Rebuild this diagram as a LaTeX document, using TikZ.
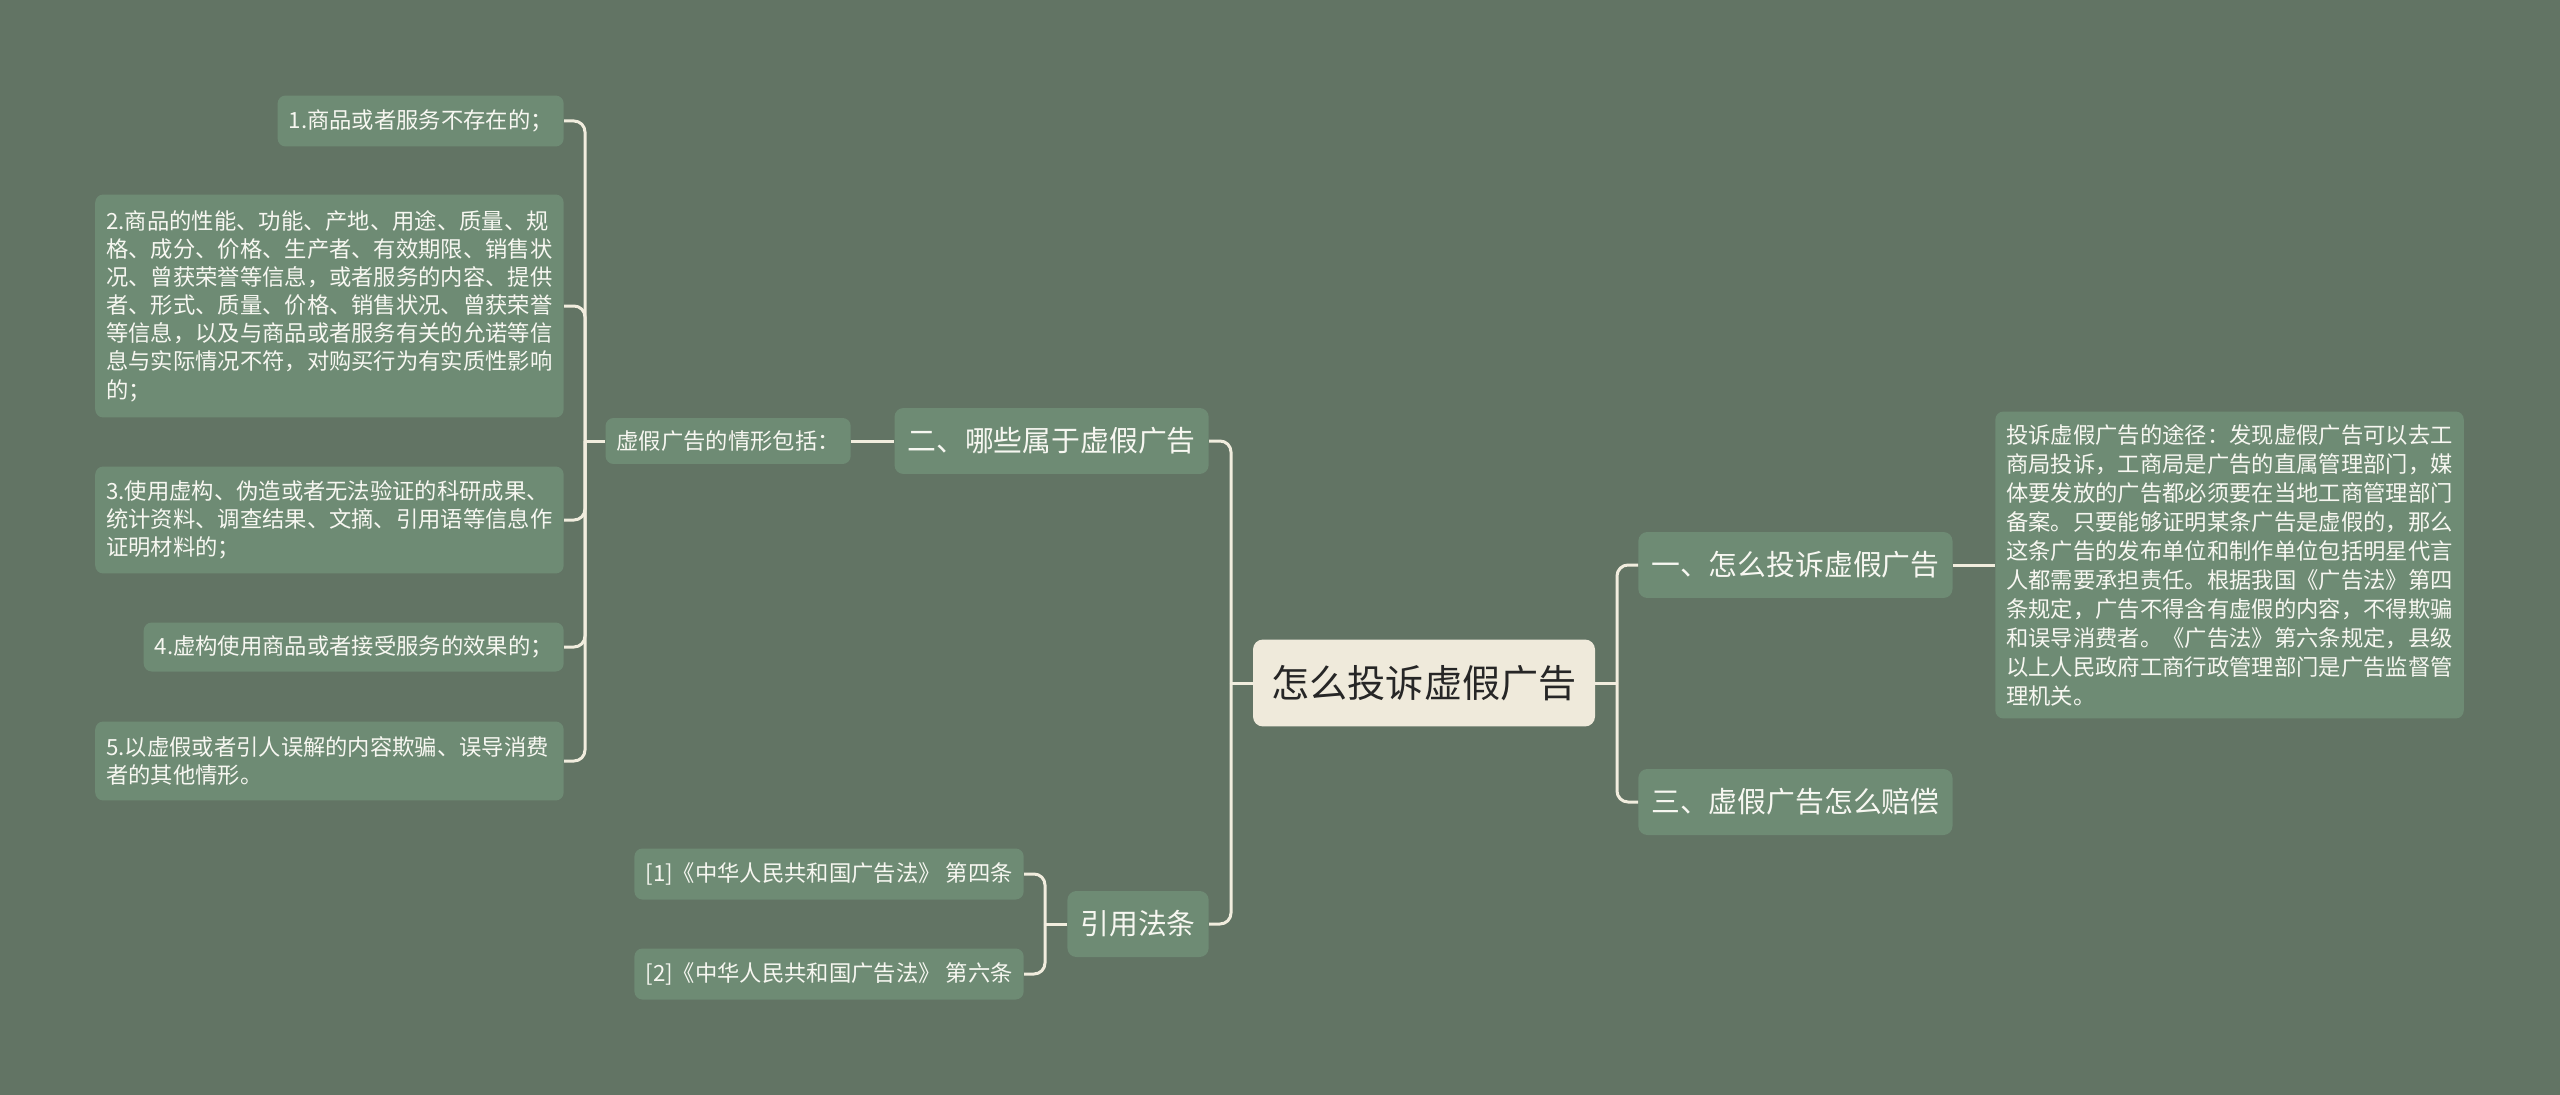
\documentclass[tikz,border=0pt]{standalone}
\usepackage{fontspec}
\setmainfont{Noto Sans CJK SC}
\usetikzlibrary{positioning}
\definecolor{BgGreen}{RGB}{98,116,100}
\definecolor{BoxGreen}{RGB}{110,139,116}
\definecolor{LineCream}{RGB}{241,237,222}
\definecolor{RootCream}{RGB}{239,234,219}
\definecolor{RootInk}{RGB}{38,38,38}
\definecolor{LeafText}{RGB}{247,247,241}
\newcommand\leafsize{\fontsize{12.7}{16}\selectfont}
\newcommand\notesize{\fontsize{12.7}{16.5}\selectfont}
\newcommand\branchsize{\fontsize{16.4}{20}\selectfont}
\newcommand\rootsize{\fontsize{21.7}{26}\selectfont}
\tikzset{
  leaf/.style={fill=BoxGreen,text=LeafText,rounded corners=0.16cm,font=\leafsize,
    align=left,inner xsep=0.22cm,inner ysep=0.12cm},
  wideleaf/.style={leaf,text width=8.93cm},
  branch/.style={fill=BoxGreen,text=LeafText,rounded corners=0.18cm,font=\branchsize,
    inner xsep=0.26cm,minimum height=1.32cm},
  rootbox/.style={fill=RootCream,text=RootInk,rounded corners=0.2cm,font=\rootsize,
    inner xsep=0.37cm,minimum height=1.74cm},
  link/.style={draw=LineCream,line width=0.06cm,rounded corners=0.22cm},
}

\begin{document}
\begin{tikzpicture}[x=0.02cm,y=-0.02cm]
  \fill[BgGreen] (0,0) rectangle (2560,1095);
  \useasboundingbox (0,0) rectangle (2560,1095);

  \node[rootbox] (root) at (1424,683) {怎么投诉虚假广告};

  % right side
  \node[branch,anchor=west] (b1) at (1638,565) {一、怎么投诉虚假广告};
  \node[branch,anchor=west] (b3) at (1638,802) {三、虚假广告怎么赔偿};
  \node[wideleaf,font=\notesize,anchor=west,minimum height=6.14cm] (note) at (1995,565)
    {投诉虚假广告的途径：发现虚假广告可以去工\\商局投诉，工商局是广告的直属管理部门，媒\\
     体要发放的广告都必须要在当地工商管理部门\\备案。只要能够证明某条广告是虚假的，那么\\
     这条广告的发布单位和制作单位包括明星代言\\人都需要承担责任。根据我国《广告法》第四\\
     条规定，广告不得含有虚假的内容，不得欺骗\\和误导消费者。《广告法》第六条规定，县级\\
     以上人民政府工商行政管理部门是广告监督管\\理机关。};

  % left side
  \node[branch,anchor=east] (b2) at (1209,441) {二、哪些属于虚假广告};
  \node[branch,anchor=east] (law) at (1209,924) {引用法条};
  \node[leaf,anchor=east,minimum height=0.92cm] (kinds) at (851,441) {虚假广告的情形包括：};

  \node[leaf,anchor=east,minimum height=1.02cm] (i1) at (564,121) {1.商品或者服务不存在的；};
  \node[wideleaf,anchor=east,minimum height=4.46cm] (i2) at (564,306)
    {2.商品的性能、功能、产地、用途、质量、规\\格、成分、价格、生产者、有效期限、销售状\\
     况、曾获荣誉等信息，或者服务的内容、提供\\者、形式、质量、价格、销售状况、曾获荣誉\\
     等信息，以及与商品或者服务有关的允诺等信\\息与实际情况不符，对购买行为有实质性影响\\的；};
  \node[wideleaf,anchor=east,minimum height=2.14cm] (i3) at (564,520)
    {3.使用虚构、伪造或者无法验证的科研成果、\\统计资料、调查结果、文摘、引用语等信息作\\证明材料的；};
  \node[leaf,anchor=east,minimum height=0.98cm] (i4) at (564,647) {4.虚构使用商品或者接受服务的效果的；};
  \node[wideleaf,anchor=east,minimum height=1.58cm] (i5) at (564,761)
    {5.以虚假或者引人误解的内容欺骗、误导消费\\者的其他情形。};

  \node[leaf,anchor=east,minimum height=1.02cm] (r1) at (1024,874) {[1]《中华人民共和国广告法》 第四条};
  \node[leaf,anchor=east,minimum height=1.02cm] (r2) at (1024,974) {[2]《中华人民共和国广告法》 第六条};

  % connectors
  \coordinate (rj) at (1617,683);
  \draw[link] (root.east) -- (rj);
  \foreach \c in {b1,b3} \draw[link] (rj) |- (\c.west);
  \draw[link] (b1.east) -- (note.west);

  \coordinate (lj) at (1231,683);
  \draw[link] (root.west) -- (lj);
  \foreach \c in {b2,law} \draw[link] (lj) |- (\c.east);
  \draw[link] (b2.west) -- (kinds.east);

  \coordinate (kj) at (585,441);
  \draw[link] (kinds.west) -- (kj);
  \foreach \i in {1,...,5} \draw[link] (kj) |- (i\i.east);

  \coordinate (fj) at (1045,924);
  \draw[link] (law.west) -- (fj);
  \foreach \i in {1,2} \draw[link] (fj) |- (r\i.east);
\end{tikzpicture}
\end{document}
